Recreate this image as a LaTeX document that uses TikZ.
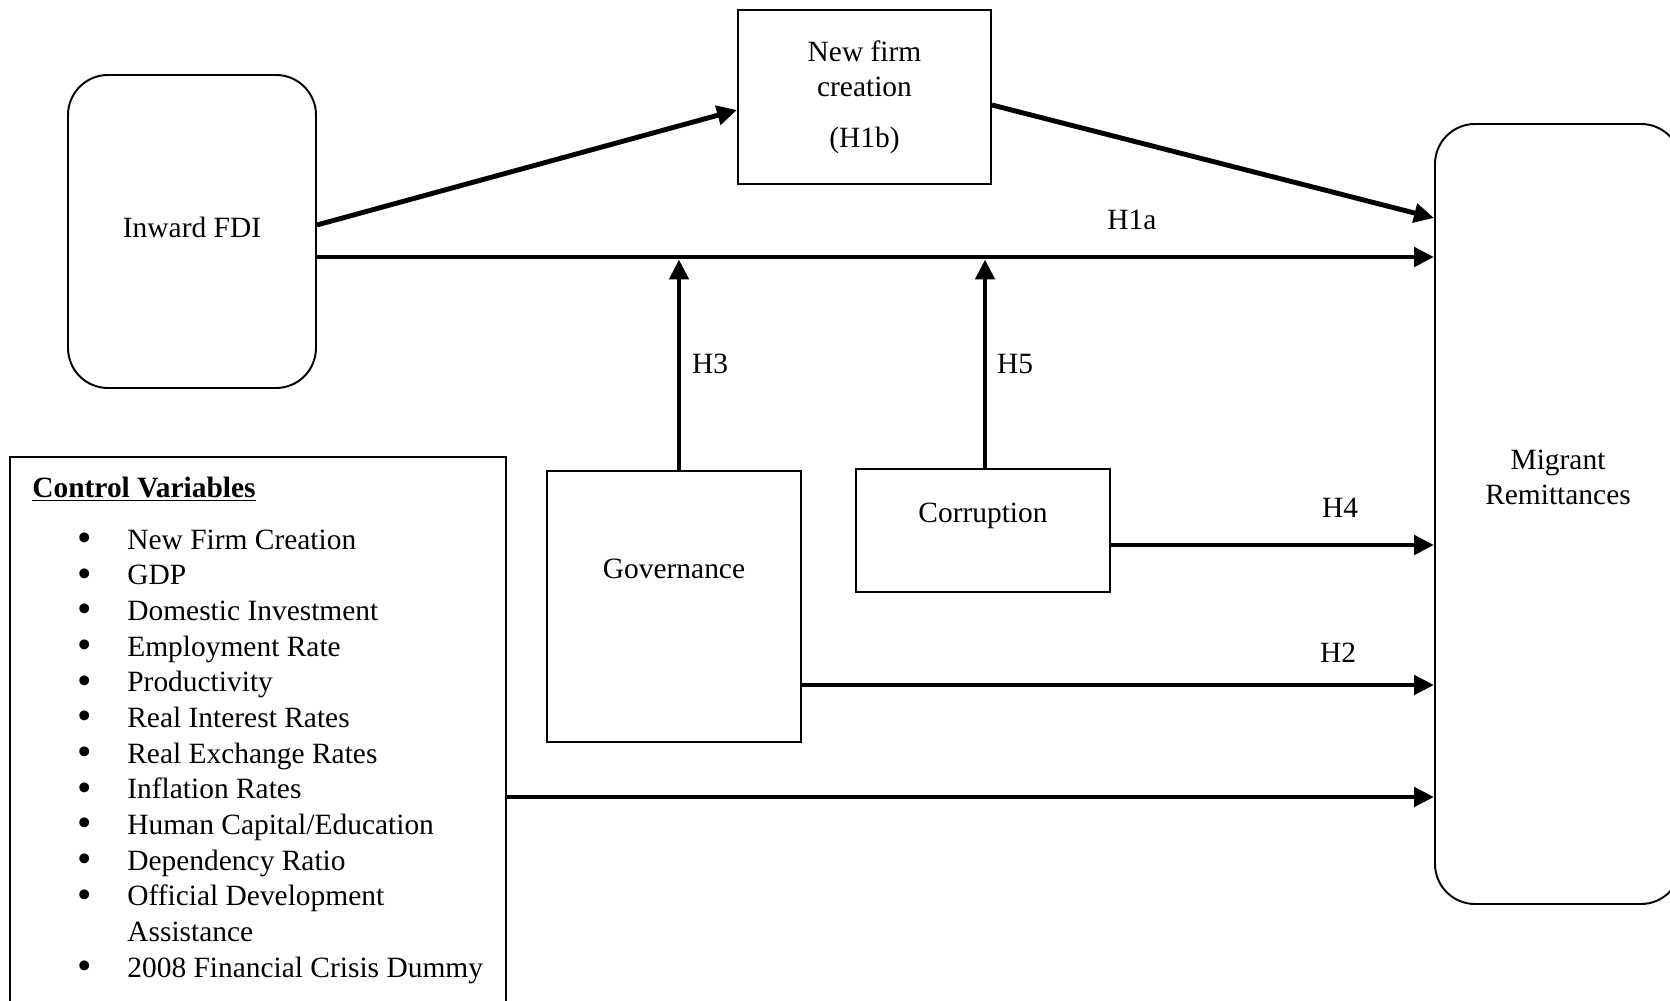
\documentclass[tikz,border=0pt]{standalone}
\usepackage{fontspec}
\usepackage{graphicx}
\setmainfont{Liberation Serif}
\usetikzlibrary{arrows.meta,positioning}

\newcommand{\cvbullet}{\llap{\raisebox{-0.08em}{\scalebox{1.4}{\textbullet}}\hspace{0.7cm}}}

\tikzset{
  varbox/.style={draw, line width=1.1pt, inner sep=0pt},
  roundbox/.style={varbox, rounded corners=0.8cm},
  hyparrow/.style={line width=2.8pt, -{Triangle[length=0.4cm,width=0.38cm]}},
}

\begin{document}
\begin{tikzpicture}[font=\fontsize{16.75}{20.3}\selectfont]
  \useasboundingbox (0,0) rectangle (33.4,20);

  % boxes
  \node[roundbox, minimum width=4.96cm, minimum height=6.26cm] (fdi) at (3.84,15.37) {\raisebox{0.16cm}{Inward FDI}};
  \node[varbox, minimum width=5.06cm, minimum height=3.48cm, align=center] (nfc) at (17.29,18.06)
    {New firm\\creation\\[0.3cm](H1b)};
  \node[roundbox, minimum width=4.92cm, minimum height=15.6cm] (mig) at (31.16,9.72) {};
  \node[align=center] (migtxt) at ([yshift=0.73cm]mig.center) {Migrant\\Remittances};
  \node[varbox, minimum width=5.08cm, minimum height=5.42cm] (gov) at (13.48,7.87) {};
  \node (govtxt) at ([yshift=0.75cm]gov.center) {Governance};
  \node[varbox, minimum width=5.08cm, minimum height=2.46cm] (corr) at (19.66,9.39) {};
  \node (corrtxt) at ([yshift=0.29cm]corr.center) {Corruption};

  % control variables
  \node[varbox, minimum width=9.92cm, minimum height=11.1cm] (ctrl) at (5.16,5.31) {};
  \node[anchor=west, inner sep=0pt] (cvhead) at (0.64,10.22) {\underline{\textbf{Control Variables}}};
  \node[anchor=west, align=left, inner sep=0pt] (cvlist) at (2.54,4.87) {%
    \cvbullet New Firm Creation\\
    \cvbullet GDP\\
    \cvbullet Domestic Investment\\
    \cvbullet Employment Rate\\
    \cvbullet Productivity\\
    \cvbullet Real Interest Rates\\
    \cvbullet Real Exchange Rates\\
    \cvbullet Inflation Rates\\
    \cvbullet Human Capital/Education\\
    \cvbullet Dependency Ratio\\
    \cvbullet Official Development\\
    Assistance\\
    \cvbullet 2008 Financial Crisis Dummy};

  % paths
  \draw[hyparrow] ([yshift=0.13cm]fdi.east) -- ([yshift=-0.26cm]nfc.west);
  \draw[hyparrow] ([yshift=-0.16cm]nfc.east) -- ([yshift=5.92cm]mig.west);
  \coordinate (h1a) at ([yshift=-0.51cm]fdi.east);
  \draw[hyparrow] (h1a) -- (h1a -| mig.west);
  \coordinate (h3s) at ([xshift=0.1cm]gov.north);
  \draw[hyparrow] (h3s) -- ([yshift=-0.05cm]h3s |- h1a);
  \coordinate (h5s) at ([xshift=0.04cm]corr.north);
  \draw[hyparrow] (h5s) -- ([yshift=-0.05cm]h5s |- h1a);
  \coordinate (h4s) at ([yshift=-0.29cm]corr.east);
  \draw[hyparrow] (h4s) -- (h4s -| mig.west);
  \coordinate (h2s) at ([yshift=-1.57cm]gov.east);
  \draw[hyparrow] (h2s) -- (h2s -| mig.west);
  \coordinate (cvs) at ([yshift=-1.25cm]ctrl.east);
  \draw[hyparrow] (cvs) -- (cvs -| mig.west);

  % hypothesis labels
  \node (lh1a) at (22.64,15.6) {H1a};
  \node (lh3) at (14.2,12.72) {H3};
  \node (lh5) at (20.3,12.72) {H5};
  \node (lh4) at (26.8,9.84) {H4};
  \node (lh2) at (26.76,6.94) {H2};
\end{tikzpicture}
\end{document}
